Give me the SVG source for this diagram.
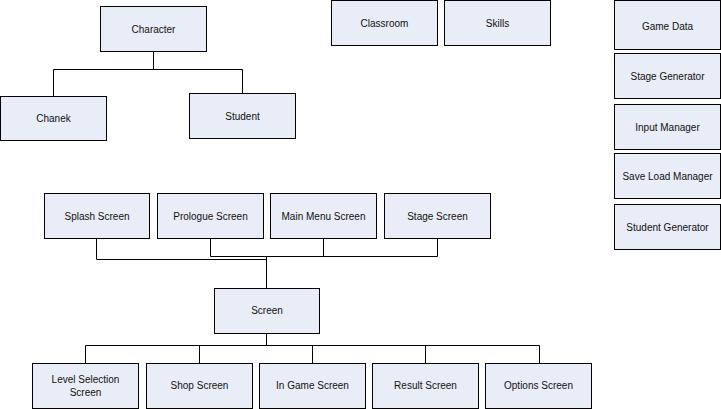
<svg xmlns="http://www.w3.org/2000/svg" width="721" height="409" viewBox="0 0 721 409">
<style>
.n rect{fill:#e9edf7;stroke:#000;stroke-width:1}
.n text{font-family:"Liberation Sans",Arial,sans-serif;font-size:10px;fill:#111;text-anchor:middle;dominant-baseline:central}
#connectors path{fill:none;stroke:#000;stroke-width:1}
</style>
<rect width="721" height="409" fill="#fff"/>
<g id="connectors">
<path d="M153.5 51V69.5M53.5 96V69.5H242.5V93"/>
<path d="M96.5 238V259.5H266.5M210.5 238V256.5H437.5V238M323.5 238V256.5M266.5 256.5V288"/>
<path d="M266.5 333V345.5M85.5 363V345.5H539.5V363M199.5 345.5V363M312.5 345.5V363M425.5 345.5V363"/>
</g>
<g id="character" class="n"><rect x="100.5" y="6.5" width="106" height="45"/><text x="153.5" y="29">Character</text></g>
<g id="chanek" class="n"><rect x="0.5" y="96.5" width="106" height="44"/><text x="53.5" y="118">Chanek</text></g>
<g id="student" class="n"><rect x="189.5" y="93.5" width="106" height="45"/><text x="242.5" y="116">Student</text></g>
<g id="classroom" class="n"><rect x="331.5" y="0.5" width="106" height="45"/><text x="384.5" y="23">Classroom</text></g>
<g id="skills" class="n"><rect x="444.5" y="0.5" width="106" height="45"/><text x="497.5" y="23">Skills</text></g>
<g id="gamedata" class="n"><rect x="614.5" y="0.5" width="106" height="49"/><text x="667.5" y="26">Game Data</text></g>
<g id="stagegenerator" class="n"><rect x="614.5" y="53.5" width="106" height="45"/><text x="667.5" y="76">Stage Generator</text></g>
<g id="inputmanager" class="n"><rect x="614.5" y="104.5" width="106" height="45"/><text x="667.5" y="127">Input Manager</text></g>
<g id="saveloadmanager" class="n"><rect x="614.5" y="153.5" width="106" height="45"/><text x="667.5" y="176">Save Load Manager</text></g>
<g id="studentgenerator" class="n"><rect x="614.5" y="204.5" width="106" height="45"/><text x="667.5" y="227">Student Generator</text></g>
<g id="splash" class="n"><rect x="44.5" y="193.5" width="105" height="45"/><text x="97" y="216">Splash Screen</text></g>
<g id="prologue" class="n"><rect x="157.5" y="193.5" width="106" height="45"/><text x="210.5" y="216">Prologue Screen</text></g>
<g id="mainmenu" class="n"><rect x="270.5" y="193.5" width="106" height="45"/><text x="323.5" y="216">Main Menu Screen</text></g>
<g id="stagescreen" class="n"><rect x="384.5" y="193.5" width="106" height="45"/><text x="437.5" y="216">Stage Screen</text></g>
<g id="screen" class="n"><rect x="214.5" y="288.5" width="105" height="45"/><text x="267" y="310">Screen</text></g>
<g id="levelselection" class="n"><rect x="32.5" y="363.5" width="106" height="45"/><text x="85.5" y="379">Level Selection</text><text x="85.5" y="392">Screen</text></g>
<g id="shop" class="n"><rect x="146.5" y="363.5" width="106" height="45"/><text x="199.5" y="385">Shop Screen</text></g>
<g id="ingame" class="n"><rect x="259.5" y="363.5" width="106" height="45"/><text x="312.5" y="385">In Game Screen</text></g>
<g id="result" class="n"><rect x="372.5" y="363.5" width="106" height="45"/><text x="425.5" y="385">Result Screen</text></g>
<g id="options" class="n"><rect x="485.5" y="363.5" width="106" height="45"/><text x="538.5" y="385">Options Screen</text></g>
</svg>
